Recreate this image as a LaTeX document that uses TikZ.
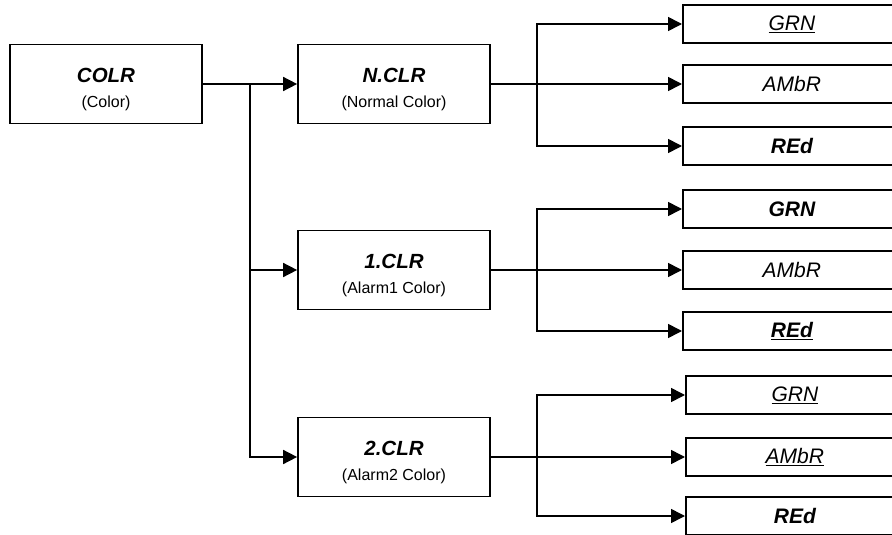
\documentclass[tikz,border=0pt]{standalone}
\usepackage{fontspec}
\setmainfont{Liberation Sans}
\usetikzlibrary{arrows.meta}
\newcommand{\mytitle}[2]{{\rule{0pt}{26pt}\fontsize{20.5}{25}\selectfont\bfseries\itshape #1}\\{\fontsize{16}{25}\selectfont #2}}
\begin{document}
\begin{tikzpicture}[x=1pt,y=-1pt,
  box/.style={draw=black, line width=1.7pt, fill=white, inner sep=0pt, align=center},
  mainbox/.style={box, minimum width=192pt, minimum height=79pt, font=\fontsize{16}{25}\selectfont},
  leafbox/.style={box, minimum width=218pt, minimum height=38pt, font=\fontsize{21}{24}\selectfont\itshape},
  arr/.style={line width=1.6pt, -{Triangle[length=14pt,width=14pt]}}]
\useasboundingbox (0,0) rectangle (892,535);
\clip (0,0) rectangle (892,535);
\fill[white] (0,0) rectangle (892,535);

% main boxes
\node[mainbox] (colr) at (106,84) {\mytitle{COLR}{(Color)}};
\node[mainbox] (ncl) at (394,84) {\mytitle{N.CLR}{(Normal Color)}};
\node[mainbox] (c1) at (394,270) {\mytitle{1.CLR}{(Alarm1 Color)}};
\node[mainbox] (c2) at (394,457) {\mytitle{2.CLR}{(Alarm2 Color)}};

% leaf boxes group 1
\node[leafbox, anchor=west] (g1) at (682,24) {\underline{GRN}};
\node[leafbox, anchor=west] (a1) at (682,84) {AMbR};
\node[leafbox, anchor=west] (r1) at (682,146) {\bfseries REd};
% group 2
\node[leafbox, anchor=west] (g2) at (682,209) {\bfseries GRN};
\node[leafbox, anchor=west] (a2) at (682,270) {AMbR};
\node[leafbox, anchor=west] (r2) at (682,331) {\bfseries\underline{REd}};
% group 3
\node[leafbox, anchor=west] (g3) at (685,395) {\underline{GRN}};
\node[leafbox, anchor=west] (a3) at (685,457) {\underline{AMbR}};
\node[leafbox, anchor=west] (r3) at (685,516) {\bfseries REd};

% connectors from COLR
\coordinate (j0) at (250,84);
\draw[arr] (colr.east) -- (ncl.west);
\draw[arr] (j0) |- (c1.west);
\draw[arr] (j0) |- (c2.west);

% group 1
\coordinate (j1) at (537,84);
\draw[arr] (ncl.east) -- (a1.west);
\draw[arr] (j1) |- (g1.west);
\draw[arr] (j1) |- (r1.west);

% group 2
\coordinate (j2) at (537,270);
\draw[arr] (c1.east) -- (a2.west);
\draw[arr] (j2) |- (g2.west);
\draw[arr] (j2) |- (r2.west);

% group 3
\coordinate (j3) at (537,457);
\draw[arr] (c2.east) -- (a3.west);
\draw[arr] (j3) |- (g3.west);
\draw[arr] (j3) |- (r3.west);
\end{tikzpicture}
\end{document}
